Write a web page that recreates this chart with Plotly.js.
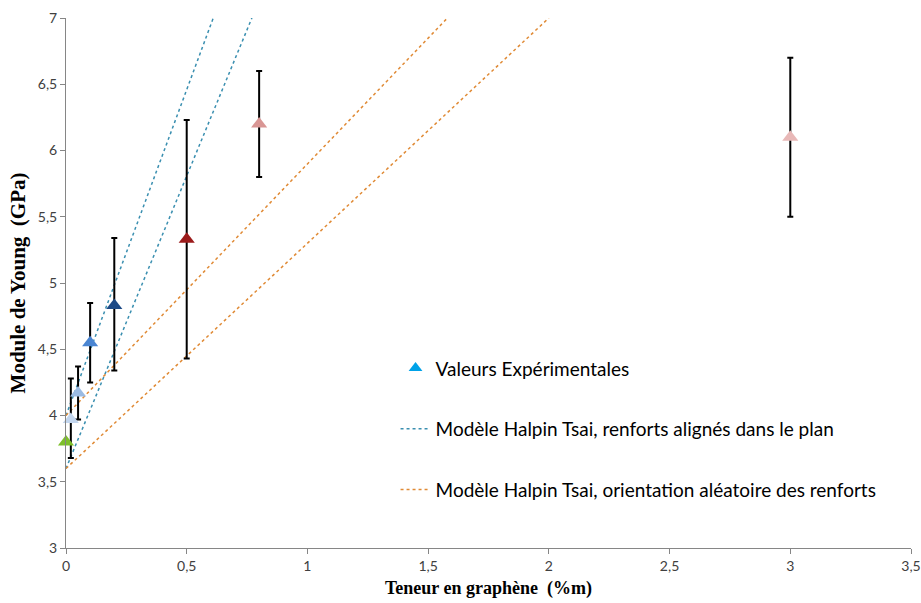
<!DOCTYPE html>
<html>
<head>
<meta charset="utf-8">
<script src="https://cdn.plot.ly/plotly-3.0.1.min.js"></script>
<style>html,body{margin:0;padding:0;background:#fff;}#chart{width:921px;height:603px;}</style>
</head>
<body>
<div id="chart"></div>
<script>
// Experimental values
const expX = [0, 0.02, 0.05, 0.1, 0.2, 0.5, 0.8, 3];
const expY = [3.80, 3.97, 4.17, 4.55, 4.83, 5.33, 6.20, 6.10];
const expErrPlus = [0, 0.31, 0.20, 0.30, 0.51, 0.90, 0.40, 0.60];
const expErrMinus = [0, 0.29, 0.20, 0.30, 0.49, 0.90, 0.40, 0.60];
const expColors = ['#7dbf2a', '#c3d6ee', '#9bbbe3', '#4a85d2', '#1d4a86', '#9b1b1b', '#d99694', '#e8b8b7'];

// Halpin Tsai model, aligned in plane (two bounds)
const alignedX1 = [0, 0.61];
const alignedY1 = [4.0, 7.0];
const alignedX2 = [0, 0.77];
const alignedY2 = [3.6, 7.0];
// Halpin Tsai model, random orientation (two bounds)
const randomX1 = [0, 1.58];
const randomY1 = [4.0, 7.0];
const randomX2 = [0, 2.0];
const randomY2 = [3.6, 7.0];

const legendNames = ['Valeurs Expérimentales', 'Modèle Halpin Tsai, renforts alignés dans le plan', 'Modèle Halpin Tsai, orientation aléatoire des renforts'];

const blueLine = '#3a8fb0';
const orangeLine = '#e08a35';

const traces = [
  // legend entry for experimental values (no points)
  {x: [null], y: [null], type: 'scatter', mode: 'markers', name: legendNames[0], legendgroup: 'a',
   marker: {symbol: 'triangle-up', size: 12, color: '#00a2e8'}},
  {x: alignedX1, y: alignedY1, type: 'scatter', mode: 'lines', name: legendNames[1], legendgroup: 'b', showlegend: false, line: {color: blueLine, width: 1.5, dash: 'dot'}},
  {x: alignedX2, y: alignedY2, type: 'scatter', mode: 'lines', name: legendNames[1], legendgroup: 'b', line: {color: blueLine, width: 1.5, dash: 'dot'}},
  {x: randomX1, y: randomY1, type: 'scatter', mode: 'lines', name: legendNames[2], legendgroup: 'c', showlegend: false, line: {color: orangeLine, width: 1.5, dash: 'dot'}},
  {x: randomX2, y: randomY2, type: 'scatter', mode: 'lines', name: legendNames[2], legendgroup: 'c', line: {color: orangeLine, width: 1.5, dash: 'dot'}},
  // experimental points (each its own colour)
  {x: expX, y: expY, type: 'scatter', mode: 'markers', showlegend: false, cliponaxis: false,
   marker: {symbol: 'triangle-up', size: 14, color: expColors},
   error_y: {type: 'data', symmetric: false, array: expErrPlus, arrayminus: expErrMinus, color: '#000', thickness: 2, width: 3}}
];

const tickFont = {family: 'Lato, "Open Sans", sans-serif', size: 14, color: '#404040'};

const layout = {
  width: 921, height: 603,
  margin: {l: 66, r: 10, t: 18, b: 55},
  paper_bgcolor: '#fff', plot_bgcolor: '#fff',
  separators: ', ',
  showlegend: true,
  legend: {
    x: 0.39, y: 0.375, xanchor: 'left', yanchor: 'top',
    font: {family: 'Lato, "Open Sans", sans-serif', size: 19, color: '#000'},
    tracegroupgap: 33, bgcolor: 'rgba(0,0,0,0)', traceorder: 'grouped'
  },
  xaxis: {
    range: [0, 3.5], dtick: 0.5, tick0: 0, showgrid: false, zeroline: false,
    showline: true, linecolor: '#868686', linewidth: 1,
    ticks: 'outside', ticklen: 5, tickcolor: '#868686',
    tickfont: tickFont,
    title: {text: '<b>Teneur en graphène  (%m)</b>', font: {family: '"Liberation Serif", "Times New Roman", serif', size: 18, color: '#000'}, standoff: 8}
  },
  yaxis: {
    range: [3, 7], dtick: 0.5, tick0: 3, showgrid: false, zeroline: false,
    showline: true, linecolor: '#868686', linewidth: 1,
    ticks: 'outside', ticklen: 5, tickcolor: '#868686',
    tickfont: tickFont,
    title: {text: '<b>Module de Young  (GPa)</b>', font: {family: '"Liberation Serif", "Times New Roman", serif', size: 21, color: '#000'}, standoff: 6}
  }
};

Plotly.newPlot('chart', traces, layout, {displayModeBar: false, staticPlot: true});
</script>
</body>
</html>
